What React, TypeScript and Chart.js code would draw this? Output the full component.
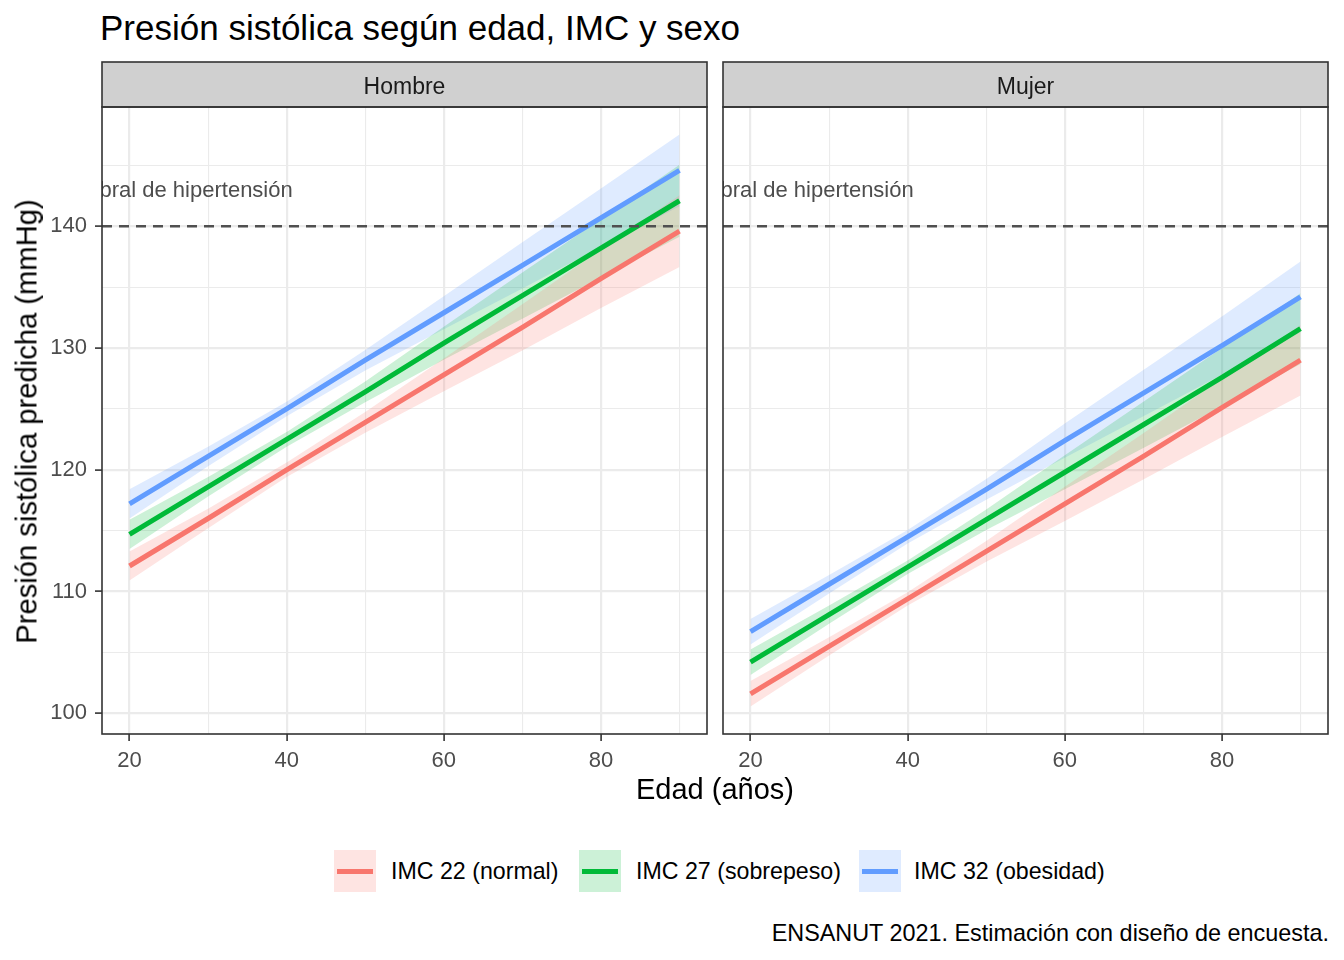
import React, { useEffect, useRef } from "react";
import { Chart, registerables } from "chart.js";

Chart.register(...registerables);

// ---------- data ----------
const AGES = [20, 30, 40, 50, 60, 70, 80, 90];

const HOMBRE_IMC22 = [112.1, 116.0, 120.0, 123.9, 127.8, 131.7, 135.7, 139.6];
const HOMBRE_IMC27 = [114.7, 118.6, 122.5, 126.4, 130.4, 134.3, 138.2, 142.1];
const HOMBRE_IMC32 = [117.2, 121.1, 125.0, 129.0, 132.9, 136.8, 140.7, 144.6];

const MUJER_IMC22 = [101.6, 105.5, 109.4, 113.3, 117.2, 121.1, 125.1, 129.0];
const MUJER_IMC27 = [104.2, 108.1, 112.0, 115.9, 119.8, 123.7, 127.6, 131.6];
const MUJER_IMC32 = [106.7, 110.6, 114.5, 118.4, 122.4, 126.3, 130.2, 134.2];

// half-width of the confidence band at each age
const CI_HALF_HOMBRE = [1.2, 0.8, 0.6, 0.85, 1.35, 1.9, 2.4, 2.95];
const CI_HALF_MUJER = [1.05, 0.75, 0.55, 0.85, 1.4, 1.9, 2.4, 2.9];

const SERIES_LABELS = ["IMC 22 (normal)", "IMC 27 (sobrepeso)", "IMC 32 (obesidad)"];
const FACETS = ["Hombre", "Mujer"];

const THRESHOLD = 140;
const THRESHOLD_LABEL = "Umbral de hipertensión";
const THRESHOLD_LABEL_X = 26.3;
const THRESHOLD_LABEL_Y = 143;

const X_TICKS = [20, 30, 40, 50, 60, 70, 80, 90];
const X_MAJOR = [20, 40, 60, 80];
const Y_TICKS = [100, 105, 110, 115, 120, 125, 130, 135, 140, 145];
const Y_MAJOR = [100, 110, 120, 130, 140];

const TITLE = "Presión sistólica según edad, IMC y sexo";
const X_TITLE = "Edad (años)";
const Y_TITLE = "Presión sistólica predicha (mmHg)";
const CAPTION = "ENSANUT 2021. Estimación con diseño de encuesta.";

// ---------- style ----------
const COLORS = ["#F8766D", "#00BA38", "#619CFF"];
const FILLS = ["rgba(248,118,109,0.2)", "rgba(0,186,56,0.2)", "rgba(97,156,255,0.2)"];
const FONT = '"Liberation Sans", Arial, Helvetica, sans-serif';
const X_MIN = 16.5;
const X_MAX = 93.5;
const Y_MIN = 98.3;
const Y_MAX = 149.8;

Chart.defaults.font.family = FONT;

type PanelProps = {
  facet: string;
  fits: number[][];
  ci: number[];
  showY: boolean;
  left: number;
  width: number;
  padLeft: number;
  padRight: number;
};

const CANVAS_TOP = 50;
const CANVAS_H = 750;

function Panel(props: PanelProps) {
  const ref = useRef<HTMLCanvasElement | null>(null);

  useEffect(() => {
    if (!ref.current) return;
    const { fits, ci, facet, showY } = props;
    const datasets: any[] = [];
    fits.forEach((fit, i) => {
      datasets.push({
        label: SERIES_LABELS[i] + " low",
        data: AGES.map((a, j) => ({ x: a, y: fit[j] - ci[j] })),
        borderColor: "transparent",
        borderWidth: 0,
        pointRadius: 0,
        fill: false,
      });
      datasets.push({
        label: SERIES_LABELS[i] + " high",
        data: AGES.map((a, j) => ({ x: a, y: fit[j] + ci[j] })),
        borderColor: "transparent",
        borderWidth: 0,
        pointRadius: 0,
        backgroundColor: FILLS[i],
        fill: "-1",
      });
    });
    fits.forEach((fit, i) => {
      datasets.push({
        label: SERIES_LABELS[i],
        data: AGES.map((a, j) => ({ x: a, y: fit[j] })),
        borderColor: COLORS[i],
        borderWidth: 5,
        pointRadius: 0,
        fill: false,
        tension: 0,
      });
    });

    const decor = {
      id: "decor",
      afterDatasetsDraw(chart: any) {
        const { ctx, chartArea: ca, scales } = chart;
        const x = scales.x;
        const y = scales.y;
        ctx.save();
        ctx.beginPath();
        ctx.rect(ca.left, ca.top, ca.right - ca.left, ca.bottom - ca.top);
        ctx.clip();
        const yp = y.getPixelForValue(THRESHOLD);
        ctx.setLineDash([10, 7]);
        ctx.strokeStyle = "#505050";
        ctx.lineWidth = 2.6;
        ctx.beginPath();
        ctx.moveTo(ca.left, yp);
        ctx.lineTo(ca.right, yp);
        ctx.stroke();
        ctx.setLineDash([]);
        ctx.font = "22px " + FONT;
        ctx.fillStyle = "#4D4D4D";
        ctx.textAlign = "center";
        ctx.textBaseline = "middle";
        ctx.fillText(
          THRESHOLD_LABEL,
          x.getPixelForValue(THRESHOLD_LABEL_X),
          y.getPixelForValue(THRESHOLD_LABEL_Y) + 1
        );
        ctx.restore();
      },
      afterDraw(chart: any) {
        const { ctx, chartArea: ca } = chart;
        ctx.save();
        // strip
        const sh = 45;
        ctx.fillStyle = "#D0D0D0";
        ctx.fillRect(ca.left, ca.top - sh, ca.right - ca.left, sh);
        ctx.strokeStyle = "#333333";
        ctx.lineWidth = 1.6;
        ctx.strokeRect(ca.left, ca.top - sh, ca.right - ca.left, sh);
        ctx.font = "23px " + FONT;
        ctx.fillStyle = "#1A1A1A";
        ctx.textAlign = "center";
        ctx.textBaseline = "alphabetic";
        ctx.fillText(facet, (ca.left + ca.right) / 2, ca.top - 13.5);
        // panel border
        ctx.strokeRect(ca.left, ca.top, ca.right - ca.left, ca.bottom - ca.top);
        ctx.restore();
      },
    };

    const gridColor = () => "#EBEBEB";
    const chart = new Chart(ref.current, {
      type: "line",
      data: { datasets },
      options: {
        animation: false,
        responsive: false,
        maintainAspectRatio: false,
        layout: {
          padding: { top: 57, left: props.padLeft, right: props.padRight, bottom: 0 },
        },
        plugins: {
          legend: { display: false },
          tooltip: { enabled: false },
          title: { display: false },
          filler: { drawTime: "beforeDatasetsDraw" },
        } as any,
        scales: {
          x: {
            type: "linear",
            min: X_MIN,
            max: X_MAX,
            afterBuildTicks: (s: any) => {
              s.ticks = X_TICKS.map((v) => ({ value: v }));
            },
            afterFit: (s: any) => {
              s.height = 66;
            },
            ticks: {
              autoSkip: false,
              maxRotation: 0,
              padding: 7,
              color: "#4D4D4D",
              font: { size: 22 },
              callback: (v: any) => (X_MAJOR.includes(Number(v)) ? String(v) : ""),
            },
            grid: {
              color: gridColor,
              lineWidth: (c: any) => (X_MAJOR.includes(c.tick?.value) ? 2.2 : 1.1),
              tickColor: (c: any) => (X_MAJOR.includes(c.tick?.value) ? "#333333" : "rgba(0,0,0,0)"),
              tickWidth: 1.6,
              tickLength: 7,
              drawTicks: true,
            },
            border: { display: false },
          },
          y: {
            type: "linear",
            min: Y_MIN,
            max: Y_MAX,
            afterBuildTicks: (s: any) => {
              s.ticks = Y_TICKS.map((v) => ({ value: v }));
            },
            afterFit: (s: any) => {
              s.width = showY ? 102 : 0;
            },
            ticks: {
              display: showY,
              autoSkip: false,
              padding: 8,
              color: "#4D4D4D",
              font: { size: 22 },
              callback: (v: any) => (Y_MAJOR.includes(Number(v)) ? String(v) : ""),
            },
            grid: {
              color: gridColor,
              lineWidth: (c: any) => (Y_MAJOR.includes(c.tick?.value) ? 2.2 : 1.1),
              tickColor: (c: any) =>
                showY && Y_MAJOR.includes(c.tick?.value) ? "#333333" : "rgba(0,0,0,0)",
              tickWidth: 1.6,
              tickLength: 7,
              drawTicks: showY,
            },
            border: { display: false },
          },
        },
      },
      plugins: [decor],
    } as any);
    return () => chart.destroy();
  }, []);

  return (
    <canvas
      ref={ref}
      width={props.width}
      height={CANVAS_H}
      style={{ position: "absolute", left: props.left, top: CANVAS_TOP, width: props.width, height: CANVAS_H }}
    />
  );
}

function Text(p: {
  text: string;
  x: number;
  baseline: number;
  size: number;
  color?: string;
  align?: "left" | "center" | "right";
}) {
  const fs = p.size;
  const top = p.baseline - 0.8465 * fs;
  const style: any = {
    position: "absolute",
    top,
    fontSize: fs,
    lineHeight: fs + "px",
    color: p.color || "#000",
    whiteSpace: "nowrap",
    fontFamily: FONT,
  };
  if (p.align === "center") {
    style.left = p.x - 500;
    style.width = 1000;
    style.textAlign = "center";
  } else if (p.align === "right") {
    style.left = p.x - 1000;
    style.width = 1000;
    style.textAlign = "right";
  } else {
    style.left = p.x;
  }
  return <div style={style}>{p.text}</div>;
}

const LEGEND_KEY_X = [334, 579, 859];
const LEGEND_TEXT_X = [391, 636, 914];

export default function App() {
  return (
    <div
      style={{
        position: "absolute",
        left: 0,
        top: 0,
        width: 1344,
        height: 960,
        background: "#fff",
        overflow: "hidden",
        fontFamily: FONT,
      }}
    >
      <Text text={TITLE} x={100} baseline={39.5} size={35} />
      <Panel
        facet={FACETS[0]}
        fits={[HOMBRE_IMC22, HOMBRE_IMC27, HOMBRE_IMC32]}
        ci={CI_HALF_HOMBRE}
        showY={true}
        left={0}
        width={712}
        padLeft={0}
        padRight={5}
      />
      <Panel
        facet={FACETS[1]}
        fits={[MUJER_IMC22, MUJER_IMC27, MUJER_IMC32]}
        ci={CI_HALF_MUJER}
        showY={false}
        left={712}
        width={632}
        padLeft={11}
        padRight={16}
      />
      <div
        style={{
          position: "absolute",
          left: 27 - 400,
          top: 421 - 14.5,
          width: 800,
          height: 29,
          lineHeight: "29px",
          fontSize: 29.2,
          textAlign: "center",
          transform: "rotate(-90deg)",
          transformOrigin: "50% 50%",
          whiteSpace: "nowrap",
          color: "#000",
        }}
      >
        {Y_TITLE}
      </div>
      <Text text={X_TITLE} x={715} baseline={799.5} size={29} align="center" />
      {SERIES_LABELS.map((lab, i) => (
        <React.Fragment key={lab}>
          <div
            style={{
              position: "absolute",
              left: LEGEND_KEY_X[i],
              top: 850,
              width: 42,
              height: 42,
              background: FILLS[i],
            }}
          >
            <div
              style={{
                position: "absolute",
                left: 3,
                top: 18.5,
                width: 36,
                height: 5,
                background: COLORS[i],
              }}
            />
          </div>
          <Text text={lab} x={LEGEND_TEXT_X[i]} baseline={880} size={23.2} />
        </React.Fragment>
      ))}
      <Text text={CAPTION} x={1329} baseline={941.5} size={23.4} align="right" />
    </div>
  );
}
